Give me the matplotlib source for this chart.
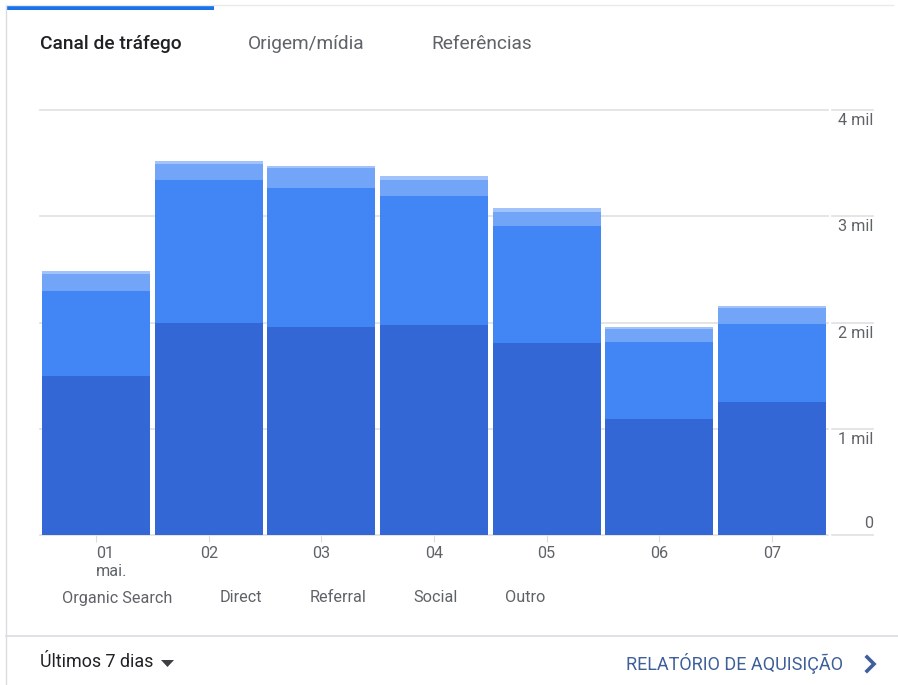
import numpy as np
import matplotlib
matplotlib.use('Agg')
import matplotlib.pyplot as plt
from matplotlib.lines import Line2D
from matplotlib.patches import Rectangle, Polygon

plt.rcParams['font.family'] = ['Roboto', 'DejaVu Sans']

# data (sessions per day, by channel)
days = ['01\nmai.', '02', '03', '04', '05', '06', '07']
channels = ['Organic Search', 'Direct', 'Referral', 'Social', 'Outro']
organic = [1496, 1995, 1958, 1976, 1807, 1092, 1252]
direct = [800, 1346, 1308, 1215, 1101, 724, 734]
referral = [160, 151, 188, 150, 132, 123, 150]
social = [29, 28, 19, 38, 38, 19, 19]
outro = [0, 0, 0, 0, 0, 0, 0]
y_ticks = [0, 1000, 2000, 3000, 4000]
y_tick_labels = ['0', '1 mil', '2 mil', '3 mil', '4 mil']

colors = ['#3367d6', '#4285f4', '#72a4f7', '#a1c2fa', '#c6dafc']
grid_c = '#e0e0e0'
text_c = '#5f6368'

W, H = 898, 685
fig = plt.figure(figsize=(W / 100, H / 100), dpi=100)

def fx(px):
    return px / W

def fy(py):
    return 1 - py / H

# card frame
fig.add_artist(Line2D([fx(6), fx(6)], [fy(5), fy(685)], color='#dadce0', lw=1))
fig.add_artist(Line2D([fx(6), fx(893)], [fy(5), fy(5)], color='#e8eaed', lw=1))
fig.add_artist(Rectangle((fx(6), fy(10)), fx(214) - fx(6), fy(5) - fy(10),
                         transform=fig.transFigure, color='#1a73e8', lw=0))
fig.add_artist(Line2D([fx(6), fx(898)], [fy(636), fy(636)], color='#dadce0', lw=1.2))

# tabs
fig.text(fx(40), fy(44), 'Canal de tráfego', fontsize=13.8, color='#202124',
         va='center', ha='left', fontweight='medium')
fig.text(fx(248), fy(44), 'Origem/mídia', fontsize=13.8, color=text_c, va='center', ha='left')
fig.text(fx(431), fy(44), 'Referências', fontsize=13.8, color=text_c, va='center', ha='left')

# chart
ax = fig.add_axes([fx(40), fy(535), fx(828) - fx(40), fy(110) - fy(535)])
x = np.arange(len(days))
series = [organic, direct, referral, social, outro]
bottom = np.zeros(len(days))
for vals, c, name in zip(series, colors, channels):
    ax.bar(x, vals, width=0.96, bottom=bottom, color=c, lw=0, zorder=3, label=name)
    bottom += np.array(vals)

ax.set_xlim(-0.5, 6.5)
ax.set_ylim(0, 4000)
for t in y_ticks:
    ax.axhline(t, color=grid_c, lw=1.2, zorder=1, clip_on=False)
for s in ax.spines.values():
    s.set_visible(False)
ax.set_yticks([])
ax.set_xticks(x)
ax.set_xticklabels(days, fontsize=11.7, color=text_c)
ax.tick_params(axis='x', length=5, color='#dadce0', pad=3)
lbl = ax.get_xticklabels()[0]
lbl.set_ha('left')
lbl.set_multialignment('left')
lbl.set_x(-0.06)

# right axis labels with short rule segments
for t, lab in zip(y_ticks, y_tick_labels):
    py = 535 - t / 4000 * 425
    fig.add_artist(Line2D([fx(832), fx(873)], [fy(py), fy(py)], color=grid_c, lw=1.2))
    if t == 0:
        fig.text(fx(873), fy(py - 4), lab, fontsize=11.7, color=text_c, ha='right', va='bottom')
    else:
        fig.text(fx(873), fy(py + 3), lab, fontsize=11.7, color=text_c, ha='right', va='top')

# legend (text only)
legend_x = [62, 220, 310, 413, 505]
for name, lx in zip(channels, legend_x):
    fig.text(fx(lx), fy(598), name, fontsize=11.7, color=text_c, ha='left', va='center')

# footer
fig.text(fx(40), fy(662), 'Últimos 7 dias', fontsize=12.9, color='#202124', ha='left', va='center')
fig.add_artist(Polygon([[fx(161), fy(660)], [fx(174), fy(660)], [fx(167.5), fy(667)]],
                       closed=True, transform=fig.transFigure, color='#3c4043', lw=0))
fig.text(fx(843), fy(664), 'RELATÓRIO DE AQUISIÇÃO', fontsize=13, color='#3e5f99',
         ha='right', va='center')
fig.add_artist(Line2D([fx(867), fx(874), fx(867)], [fy(657), fy(664), fy(671)],
                      color='#3e5f99', lw=2.6, solid_joinstyle='miter'))

fig.savefig('out.png', dpi=100)
